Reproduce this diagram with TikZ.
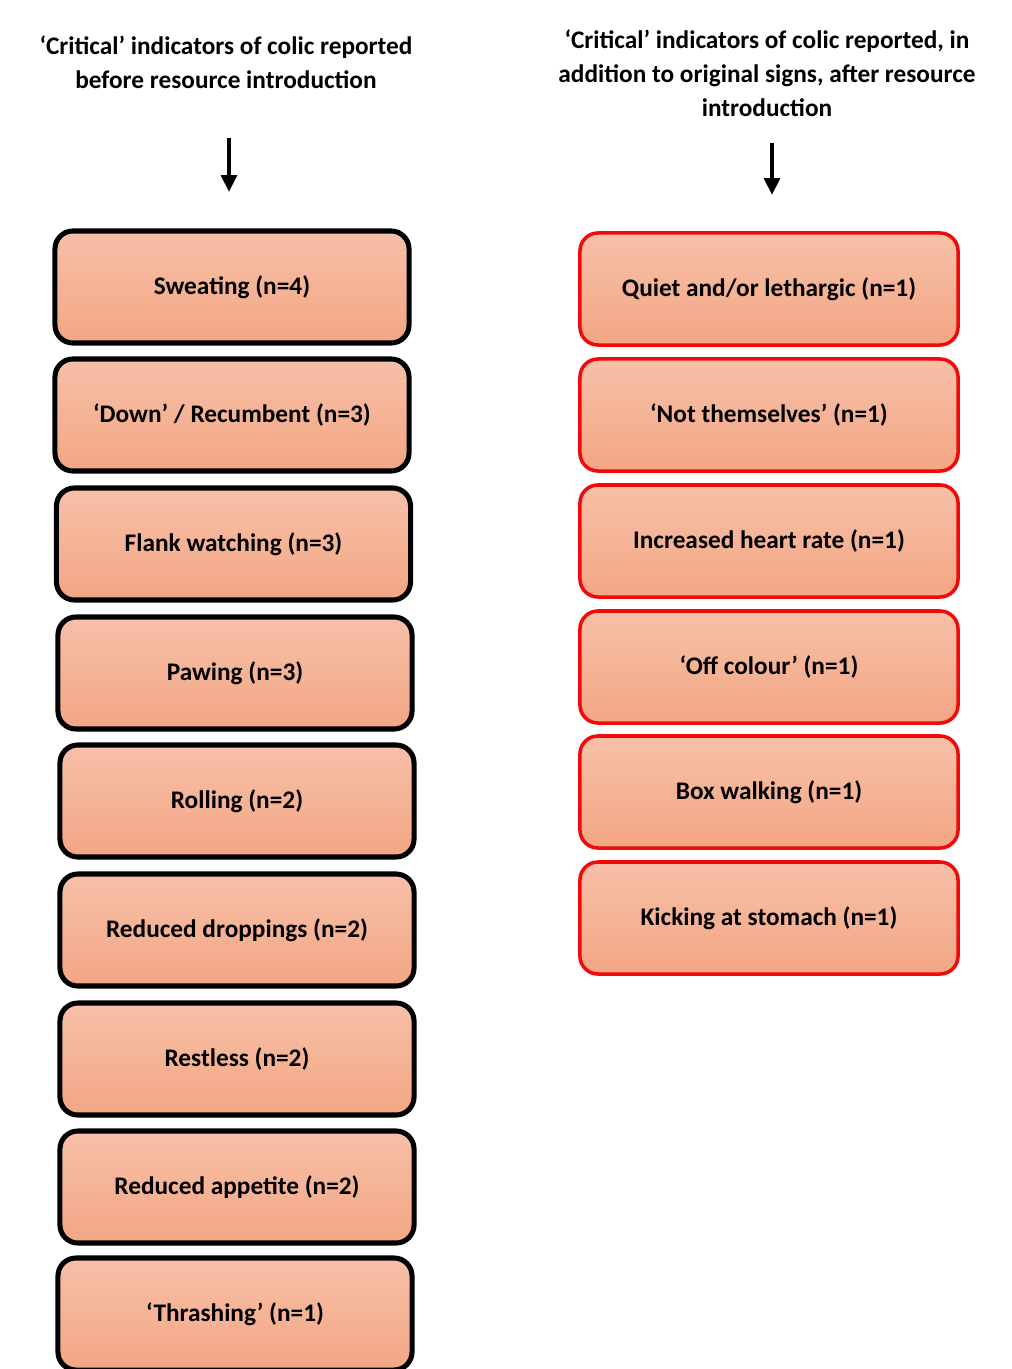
\documentclass[tikz,border=0pt]{standalone}
\usepackage{fontspec}
\setmainfont{Carlito}
\definecolor{salmontop}{RGB}{247,192,168}
\definecolor{salmonbot}{RGB}{243,166,132}
\definecolor{redline}{RGB}{240,10,10}
\usetikzlibrary{arrows.meta}

\begin{document}
\begin{tikzpicture}[x=0.025cm, y=-0.025cm,
	every node/.style={font=\fontsize{18}{22}\selectfont\bfseries, align=center},
	oldsign/.style={rounded corners=0.45cm, draw=black, line width=3.6pt,
		top color=salmontop, bottom color=salmonbot,
		minimum width=8.85cm, minimum height=2.8cm, inner sep=0pt},
	newsign/.style={rounded corners=0.45cm, draw=redline, line width=2.5pt,
		top color=salmontop, bottom color=salmonbot,
		minimum width=9.45cm, minimum height=2.8cm, inner sep=0pt},
	down/.style={-{Triangle[length=12pt, width=11pt]}, line width=3pt}]
				\useasboundingbox (0,0) rectangle (1012,1369);
				
				\node (before) at (226,62) {‘Critical’ indicators of colic reported\\[2pt] before resource introduction};
				\node (after) at (767,73) {‘Critical’ indicators of colic reported, in\\[2pt] addition to original signs, after resource\\[2pt] introduction};
				
				\coordinate (beforetip) at (229,192);
				\coordinate (aftertip) at (772,195);
				\draw[down] (229,138) -- (beforetip);
				\draw[down] (772,143) -- (aftertip);
				
				\node[oldsign] (sweat) at (232,287) {Sweating (n=4)};
				\node[oldsign] (recumb) at (232,415) {‘Down’ / Recumbent (n=3)};
				\node[oldsign] (flank) at (233.5,544) {Flank watching (n=3)};
				\node[oldsign] (paw) at (235,673) {Pawing (n=3)};
				\node[oldsign] (roll) at (237,801) {Rolling (n=2)};
				\node[oldsign] (dropp) at (237,930) {Reduced droppings (n=2)};
				\node[oldsign] (restless) at (237,1059) {Restless (n=2)};
				\node[oldsign] (appetite) at (237,1187) {Reduced appetite (n=2)};
				\node[oldsign] (thrash) at (235,1314) {‘Thrashing’ (n=1)};
				
				\node[newsign] (quiet) at (769,289) {Quiet and/or lethargic (n=1)};
				\node[newsign] (notself) at (769,415) {‘Not themselves’ (n=1)};
				\node[newsign] (heart) at (769,541) {Increased heart rate (n=1)};
				\node[newsign] (colour) at (769,667) {‘Off colour’ (n=1)};
				\node[newsign] (boxwalk) at (769,792) {Box walking (n=1)};
				\node[newsign] (kick) at (769,918) {Kicking at stomach (n=1)};
			\end{tikzpicture}
\end{document}
